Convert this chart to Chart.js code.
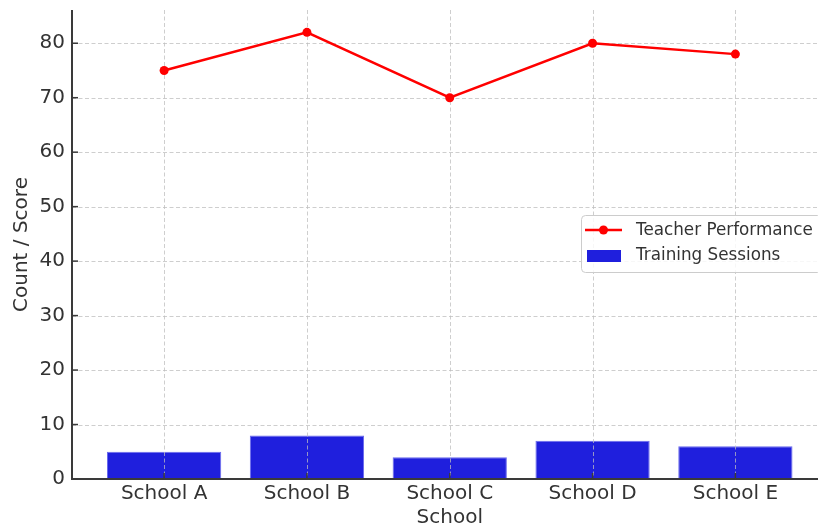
<!DOCTYPE html>
<html>
<head>
  <script src="https://cdn.jsdelivr.net/npm/chart.js@4.4.1/dist/chart.umd.min.js"></script>
  <style>
    html, body { margin: 0; padding: 0; background: #fff; overflow: hidden; }
    #wrap { width: 818px; height: 528px; overflow: hidden; }
  </style>
</head>
<body>
  <div id="wrap">
    <canvas id="myChart" width="832" height="528" style="width:832px;height:528px"></canvas>
  </div>
  <script type="text/javascript">
    // data
    var schools = ['School A', 'School B', 'School C', 'School D', 'School E'];
    var performance = [75, 82, 70, 80, 78];
    var sessions = [5, 8, 4, 7, 6];
    var yTicks = [0, 10, 20, 30, 40, 50, 60, 70, 80];

    var FONT = 'DejaVu Sans';
    var TEXT = '#333333';

    // grid between bars and line, like matplotlib
    var gridPlugin = {
      id: 'mplGrid',
      afterDatasetDraw: function(chart, args) {
        if (args.index !== 1) return;
        var ctx = chart.ctx, a = chart.chartArea;
        var xs = chart.scales.x, ys = chart.scales.y;
        ctx.save();
        ctx.strokeStyle = 'rgba(190,190,190,0.75)';
        ctx.lineWidth = 1;
        ctx.setLineDash([4, 2.5]);
        schools.forEach(function(s, i) {
          var px = Math.round(xs.getPixelForValue(i)) + 0.5;
          ctx.beginPath(); ctx.moveTo(px, a.top); ctx.lineTo(px, a.bottom); ctx.stroke();
        });
        yTicks.forEach(function(v) {
          var py = Math.round(ys.getPixelForValue(v)) + 0.5;
          ctx.beginPath(); ctx.moveTo(a.left, py); ctx.lineTo(a.right, py); ctx.stroke();
        });
        ctx.restore();
      },
      afterDatasetsDraw: function(chart) {
        var ctx = chart.ctx, a = chart.chartArea;
        var xs = chart.scales.x, ys = chart.scales.y;
        ctx.save();
        // spines
        ctx.strokeStyle = '#3a3a3a';
        ctx.lineWidth = 2;
        ctx.beginPath();
        ctx.moveTo(a.left, a.top); ctx.lineTo(a.left, a.bottom); ctx.lineTo(a.right, a.bottom);
        ctx.stroke();
        // inward ticks
        ctx.lineWidth = 1.5;
        schools.forEach(function(s, i) {
          var px = xs.getPixelForValue(i);
          ctx.beginPath(); ctx.moveTo(px, a.bottom); ctx.lineTo(px, a.bottom - 6); ctx.stroke();
        });
        yTicks.forEach(function(v) {
          var py = ys.getPixelForValue(v);
          ctx.beginPath(); ctx.moveTo(a.left, py); ctx.lineTo(a.left + 6, py); ctx.stroke();
        });

        // legend
        var bx = 581, by = 215, bw = 240, bh = 57;
        ctx.fillStyle = 'rgba(255,255,255,0.85)';
        ctx.strokeStyle = '#cccccc';
        ctx.lineWidth = 1;
        ctx.beginPath();
        ctx.roundRect(bx + 0.5, by + 0.5, bw, bh, 4);
        ctx.fill(); ctx.stroke();

        var ds = chart.data.datasets;
        ctx.strokeStyle = ds[0].borderColor;
        ctx.lineWidth = 2.5;
        ctx.beginPath(); ctx.moveTo(585, 230); ctx.lineTo(622, 230); ctx.stroke();
        ctx.fillStyle = ds[0].borderColor;
        ctx.beginPath(); ctx.arc(603.5, 230, 4.5, 0, Math.PI * 2); ctx.fill();

        ctx.fillStyle = ds[1].backgroundColor;
        ctx.fillRect(587, 250, 34, 12);

        ctx.fillStyle = TEXT;
        ctx.font = '16.8px "' + FONT + '"';
        ctx.textBaseline = 'middle';
        ctx.textAlign = 'left';
        ctx.fillText(ds[0].label, 636, 231);
        ctx.fillText(ds[1].label, 636, 256);
        ctx.restore();
      }
    };

    var ctx = document.getElementById('myChart').getContext('2d');
    var chart = new Chart(ctx, {
      type: 'bar',
      data: {
        datasets: [{
            type: 'line',
            label: 'Teacher Performance',
            data: performance.map(function(v, i) { return { x: i, y: v }; }),
            borderColor: '#ff0000',
            backgroundColor: '#ff0000',
            borderWidth: 2.5,
            pointRadius: 4.5,
            pointBorderWidth: 0,
            pointBackgroundColor: '#ff0000',
            tension: 0,
            fill: false
          },
          {
            type: 'bar',
            label: 'Training Sessions',
            data: sessions.map(function(v, i) { return { x: i, y: v }; }),
            backgroundColor: '#1f1fdd',
            borderColor: 'rgba(90,90,235,0.9)',
            borderWidth: 1,
            barPercentage: 0.8,
            categoryPercentage: 1
          }
        ]
      },
      options: {
        responsive: false,
        animation: false,
        devicePixelRatio: 1,
        layout: { padding: { left: 0, top: 10, right: 0, bottom: 0 } },
        plugins: {
          legend: { display: false },
          tooltip: { enabled: false }
        },
        scales: {
          x: {
            type: 'linear',
            offset: false,
            min: -0.645,
            max: 4.645,
            afterBuildTicks: function(scale) {
              scale.ticks = schools.map(function(s, i) { return { value: i }; });
            },
            afterFit: function(scale) {
              scale.height = 49;
              scale.paddingLeft = 0;
              scale.paddingRight = 0;
            },
            grid: { display: false, drawTicks: false },
            border: { display: false },
            ticks: {
              padding: 3,
              autoSkip: false,
              maxRotation: 0,
              color: TEXT,
              font: { family: FONT, size: 20 },
              callback: function(v) { return schools[v]; }
            },
            title: {
              display: true,
              text: 'School',
              color: TEXT,
              font: { family: FONT, size: 20, lineHeight: 1 },
              padding: { top: 0, bottom: 0 }
            }
          },
          y: {
            min: 0,
            max: 86.1,
            afterBuildTicks: function(scale) {
              scale.ticks = yTicks.map(function(v) { return { value: v }; });
            },
            afterFit: function(scale) {
              scale.width = 72;
              scale.paddingTop = 0;
              scale.paddingBottom = 0;
            },
            grid: { display: false, drawTicks: false },
            border: { display: false },
            ticks: {
              padding: 7,
              color: TEXT,
              font: { family: FONT, size: 20 }
            },
            title: {
              display: true,
              text: 'Count / Score',
              color: TEXT,
              font: { family: FONT, size: 20, lineHeight: 1 },
              padding: { top: 12, bottom: 0 }
            }
          }
        }
      },
      plugins: [gridPlugin]
    });
  </script>
</body>
</html>
